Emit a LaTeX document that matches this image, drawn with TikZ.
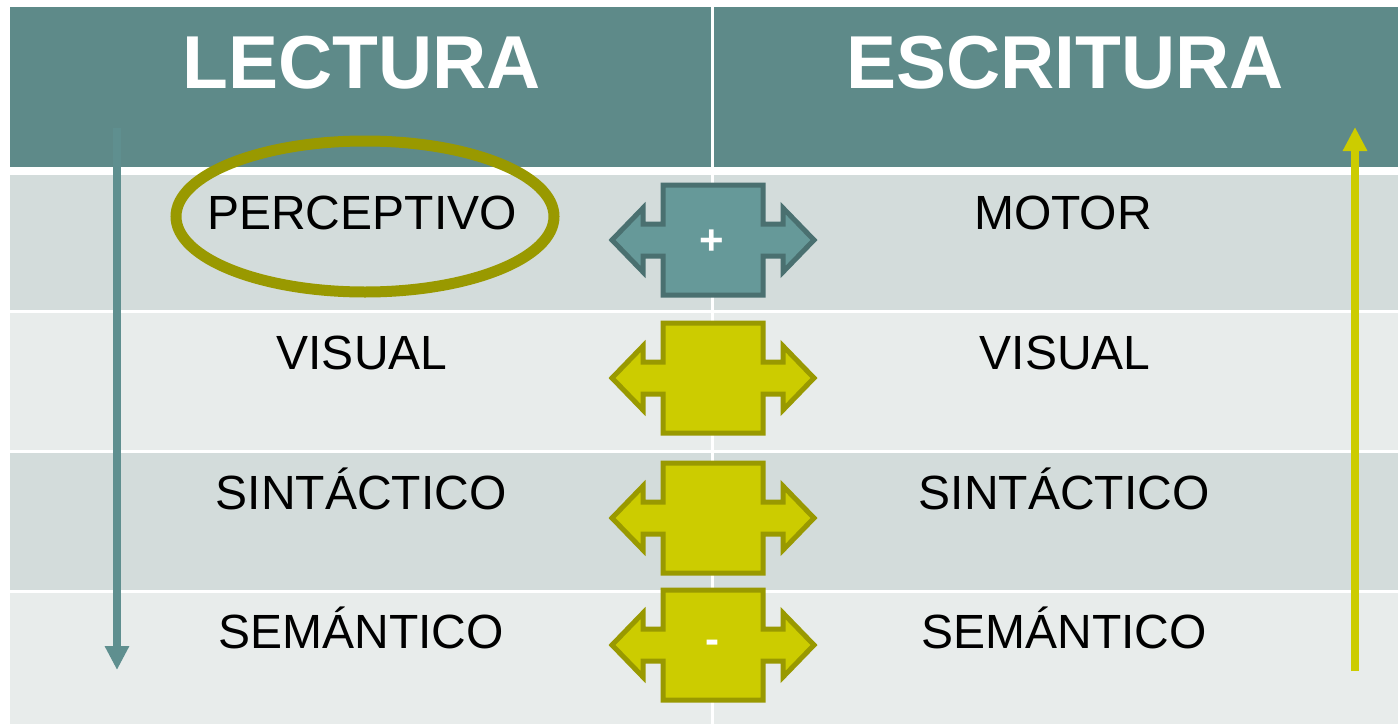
\documentclass[tikz,border=0pt]{standalone}
\usepackage{fontspec}
\setmainfont{Liberation Sans}
\usetikzlibrary{arrows.meta}

\definecolor{headteal}{HTML}{5E8A89}
\definecolor{rowdark}{HTML}{D3DCDB}
\definecolor{rowlight}{HTML}{E8ECEB}
\definecolor{crossteal}{HTML}{669999}
\definecolor{crosstealline}{HTML}{4A7070}
\definecolor{crossyellow}{HTML}{CCCC00}
\definecolor{olive}{HTML}{999900}
\definecolor{arrowteal}{HTML}{5F8F8F}

\tikzset{
  head/.style={anchor=base,text=white,font=\fontsize{37.5bp}{40bp}\selectfont\bfseries},
  level/.style={anchor=base,text=black,font=\fontsize{24bp}{26bp}\selectfont},
  sign/.style={text=white,font=\fontsize{21bp}{22bp}\selectfont\bfseries},
  pics/crossarrow/.style={code={
    \filldraw[line width=2.5bp,line join=miter] (-50,-55) -- (50,-55) -- (50,-16) -- (70,-16) -- (70,-32)
      -- (101,0) -- (70,32) -- (70,16) -- (50,16) -- (50,55) -- (-50,55) -- (-50,16)
      -- (-70,16) -- (-70,32) -- (-101,0) -- (-70,-32) -- (-70,-16) -- (-50,-16) -- cycle;
  }}
}

\begin{document}
\begin{tikzpicture}[x=0.5bp,y=-0.5bp]
  \useasboundingbox (0,0) rectangle (1398,724);

  % table
  \fill[headteal] (10,7) rectangle (1398,167);
  \fill[rowdark]  (10,175) rectangle (1398,310);
  \fill[rowlight] (10,313) rectangle (1398,450);
  \fill[rowdark]  (10,453) rectangle (1398,590);
  \fill[rowlight] (10,593) rectangle (1398,724);
  \draw[white,line width=1.5bp] (712,7) -- (712,724);

  % headers
  \node[head] (lectura)   at (362,88) {LECTURA};
  \node[head] (escritura) at (1065,88) {ESCRITURA};

  % levels
  \begin{scope}[every node/.style={level}]
    \node (perceptivo) at (362,229)  {PERCEPTIVO};
    \node (motor)      at (1063,229) {MOTOR};
    \node (visualL)    at (362,369)  {VISUAL};
    \node (visualR)    at (1065,369) {VISUAL};
    \node (sintL)      at (361,509)  {SINTÁCTICO};
    \node (sintR)      at (1064,509) {SINTÁCTICO};
    \node (semL)       at (361,648)  {SEMÁNTICO};
    \node (semR)       at (1064,648) {SEMÁNTICO};
  \end{scope}

  \draw[olive,line width=5.5bp] (365,216.5) ellipse [x radius=189,y radius=75.5];

  % crosses
  \pic[draw=crosstealline,fill=crossteal] at (713,240) {crossarrow};
  \begin{scope}[draw=olive,fill=crossyellow]
    \pic at (713,378) {crossarrow};
    \pic at (713,518) {crossarrow};
    \pic at (713,645) {crossarrow};
  \end{scope}
  \node[sign] (plus)  at (712,242) {+};
  \node[sign] (minus) at (712,647) {-};

  % direction arrows
  \coordinate (lstart) at (117,128);
  \coordinate (lend)   at (117,670);
  \coordinate (rstart) at (1355,671);
  \coordinate (rend)   at (1355,127);
  \draw[arrowteal,line width=4bp,-{Triangle[width=11.5bp,length=12bp]}] (lstart) -- (lend);
  \draw[crossyellow,line width=4bp,-{Triangle[width=11.5bp,length=12bp]}] (rstart) -- (rend);
\end{tikzpicture}
\end{document}
